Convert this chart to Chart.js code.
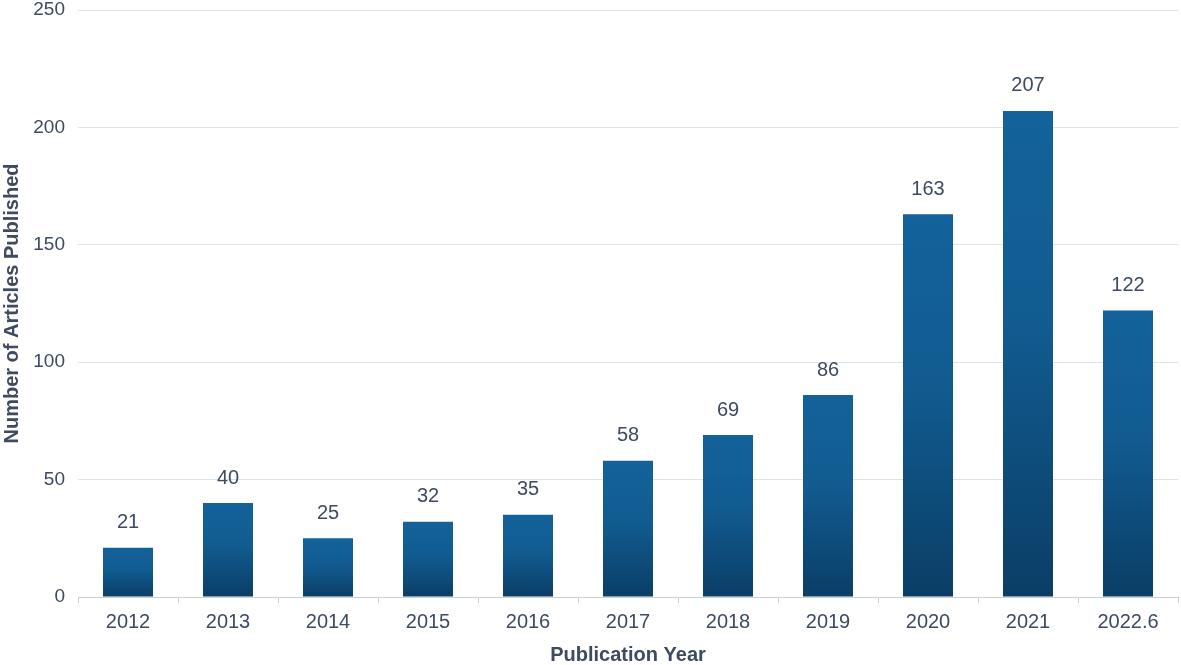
<!DOCTYPE html>
<html lang="en">
<head>
<meta charset="UTF-8">
<title>Articles per year</title>
<script src="https://cdn.jsdelivr.net/npm/chart.js"></script>
<style>
  html, body { margin: 0; padding: 0; background: #fff; }
  #wrap { width: 1181px; height: 665px; position: relative; }
</style>
</head>
<body>
<div id="wrap"><canvas id="barChart"></canvas></div>
<script>
const years = ['2012', '2013', '2014', '2015', '2016', '2017', '2018', '2019', '2020', '2021', '2022.6'];
const articles = [21, 40, 25, 32, 35, 58, 69, 86, 163, 207, 122];
const yTicks = [0, 50, 100, 150, 200, 250];

const textColor = '#3d4a5f';
const fontFamily = 'Arial, "Liberation Sans", sans-serif';

// gradient per bar: lighter blue on top, darker at the base
function barFill(ctx) {
    const chart = ctx.chart;
    if (!chart.chartArea || ctx.raw === undefined) return '#115c92';
    const y = chart.scales.y;
    const top = y.getPixelForValue(ctx.raw);
    const base = y.getPixelForValue(0);
    const g = chart.ctx.createLinearGradient(0, top, 0, base);
    g.addColorStop(0, '#14629b');
    g.addColorStop(0.45, '#115b90');
    g.addColorStop(1, '#0a3e66');
    return g;
}

// numbers above each bar
const valueLabels = {
    id: 'valueLabels',
    afterDatasetsDraw(chart) {
        const c = chart.ctx;
        const meta = chart.getDatasetMeta(0);
        c.save();
        c.fillStyle = textColor;
        c.font = '20px ' + fontFamily;
        c.textAlign = 'center';
        c.textBaseline = 'middle';
        meta.data.forEach((bar, i) => {
            c.fillText(articles[i], bar.x, bar.y - 25);
        });
        c.restore();
    }
};

new Chart(document.getElementById('barChart'), {
    type: 'bar',
    data: {
        labels: years,
        datasets: [{
            data: articles,
            backgroundColor: barFill,
            barPercentage: 0.5,
            categoryPercentage: 1.0
        }]
    },
    options: {
        responsive: true,
        maintainAspectRatio: false,
        animation: false,
        layout: { padding: { top: 10, right: 3, left: 0, bottom: 0 } },
        plugins: {
            legend: { display: false },
            tooltip: { enabled: false }
        },
        scales: {
            x: {
                afterFit(scale) { scale.height = 68; scale.paddingRight = 0; },
                grid: {
                    drawOnChartArea: false,
                    drawTicks: true,
                    tickLength: 6,
                    color: '#c8d0da'
                },
                border: { color: '#c8d0da' },
                ticks: {
                    color: textColor,
                    font: { family: fontFamily, size: 20 },
                    padding: 7,
                    maxRotation: 0
                },
                title: {
                    display: true,
                    text: 'Publication Year',
                    color: textColor,
                    font: { family: fontFamily, size: 20, weight: 'bold' },
                    padding: { top: 0, bottom: -2 }
                }
            },
            y: {
                min: 0,
                max: 250,
                afterFit(scale) {
                    scale.width = 78;
                    scale.paddingTop = 0;
                    scale.paddingBottom = 0;
                },
                afterBuildTicks(scale) { scale.ticks = yTicks.map(v => ({ value: v })); },
                grid: {
                    color: '#dde3ea',
                    drawTicks: false
                },
                border: { display: false },
                ticks: {
                    color: textColor,
                    font: { family: fontFamily, size: 19 },
                    padding: 13
                },
                title: {
                    display: true,
                    text: 'Number of Articles Published',
                    color: textColor,
                    font: { family: fontFamily, size: 20, weight: 'bold' },
                    padding: { top: 0, bottom: 0 }
                }
            }
        }
    },
    plugins: [valueLabels]
});
</script>
</body>
</html>
